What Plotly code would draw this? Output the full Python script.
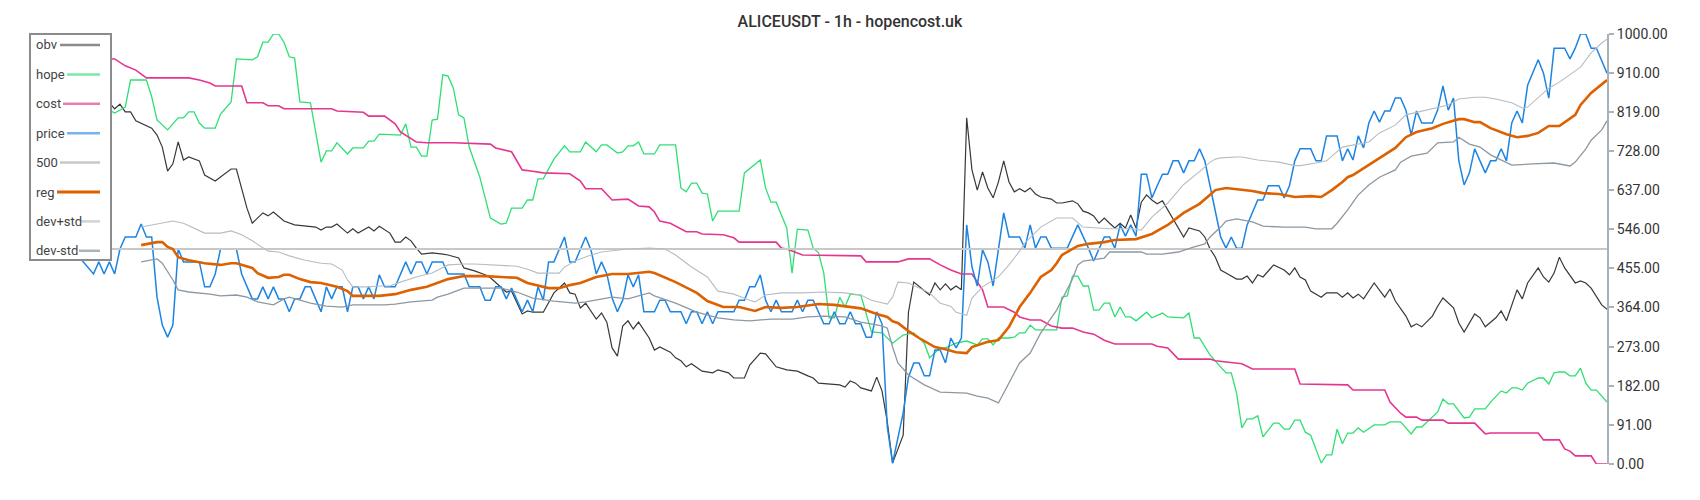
import plotly.graph_objects as go

TITLE = "ALICEUSDT - 1h - hopencost.uk"
LAST_BAR = 298  # candles indexed 0..298

# ── series (bar index, value on the 0..1000 scale) ─────────────────────────────
obv_idx = [0, 5, 10, 15, 16, 17, 18, 19, 20, 23, 24, 25, 26, 27, 28, 29, 30, 32, 33, 35, 38, 39, 41, 42, 44, 45, 46, 48,
           50, 54, 55, 56, 57, 58, 60, 61, 62, 64, 65, 66, 68, 69, 70, 71, 72, 73, 74, 76, 78, 79, 81, 82, 84, 86, 87,
           89, 90, 91, 93, 94, 95, 97, 98, 99, 101, 102, 103, 104, 105, 107, 108, 109, 110, 111, 112, 113, 114, 115,
           117, 118, 119, 121, 122, 123, 124, 125, 127, 129, 130, 132, 133, 135, 136, 138, 139, 140, 141, 143, 145,
           147, 148, 149, 151, 152, 153, 154, 155, 156, 157, 159, 160, 161, 162, 163, 165, 166, 167, 170, 171, 172,
           173, 174, 175, 176, 177, 178, 179, 180, 181, 182, 183, 184, 185, 186, 187, 188, 189, 190, 191, 193, 194,
           195, 197, 198, 199, 200, 201, 202, 203, 204, 205, 206, 207, 208, 209, 210, 211, 212, 213, 214, 215, 216,
           217, 218, 219, 221, 222, 223, 224, 225, 226, 228, 229, 230, 231, 232, 233, 235, 237, 238, 239, 240, 241,
           242, 244, 245, 247, 248, 249, 250, 251, 252, 254, 256, 257, 258, 260, 261, 262, 263, 265, 266, 267, 269,
           270, 271, 273, 274, 275, 277, 278, 279, 281, 282, 283, 285, 286, 287, 288, 289, 290, 292, 293, 294, 295,
           297, 298]
obv_val = [905, 890, 860, 840, 826, 837, 819, 819, 798, 781, 765, 737, 681, 698, 749, 707, 714, 705, 672, 658, 686, 686,
           595, 560, 584, 577, 586, 565, 556, 551, 544, 551, 551, 558, 537, 547, 537, 551, 542, 553, 537, 516, 516,
           528, 519, 502, 488, 491, 488, 486, 479, 456, 449, 440, 433, 412, 400, 402, 349, 356, 353, 353, 377, 398,
           421, 398, 395, 363, 374, 337, 351, 330, 270, 251, 321, 333, 314, 330, 293, 265, 272, 260, 247, 240, 226,
           233, 216, 212, 219, 212, 200, 200, 230, 258, 256, 242, 226, 219, 216, 205, 200, 188, 186, 186, 184, 179,
           193, 188, 177, 170, 202, 170, 98, 2, 67, 353, 423, 393, 421, 405, 419, 405, 414, 405, 805, 684, 637, 679,
           642, 619, 656, 705, 656, 633, 640, 633, 642, 628, 621, 616, 607, 607, 612, 605, 588, 584, 577, 560, 572,
           560, 549, 560, 549, 579, 549, 609, 626, 614, 605, 612, 591, 572, 551, 528, 549, 542, 528, 500, 481, 451,
           444, 430, 430, 437, 421, 440, 435, 463, 451, 440, 456, 435, 428, 402, 388, 398, 398, 388, 398, 386, 395,
           384, 421, 388, 407, 379, 344, 319, 326, 319, 344, 367, 386, 363, 328, 307, 349, 340, 319, 340, 356, 333,
           405, 384, 421, 456, 435, 423, 444, 481, 456, 421, 426, 421, 409, 370, 360]

hope_idx = [0, 5, 10, 15, 16, 18, 19, 22, 23, 24, 26, 28, 29, 30, 31, 32, 33, 35, 36, 38, 39, 42, 43, 44, 45, 46, 47,
            48, 49, 50, 51, 53, 55, 56, 57, 58, 60, 61, 63, 64, 65, 66, 70, 71, 72, 73, 74, 75, 76, 77, 78, 79, 80,
            81, 82, 83, 85, 87, 89, 90, 91, 93, 94, 95, 96, 97, 99, 101, 102, 104, 105, 107, 108, 109, 111, 112, 113,
            114, 115, 116, 118, 119, 122, 123, 124, 125, 126, 127, 128, 129, 130, 134, 135, 138, 139, 140, 141, 143,
            144, 145, 147, 148, 149, 150, 151, 152, 153, 154, 155, 157, 159, 161, 163, 165, 167, 169, 170, 172, 173,
            175, 177, 179, 180, 181, 182, 183, 185, 186, 187, 188, 189, 190, 194, 195, 196, 197, 198, 199, 200, 201,
            202, 203, 204, 205, 206, 207, 208, 209, 211, 212, 214, 215, 218, 219, 220, 221, 223, 225, 226, 227, 228,
            229, 230, 231, 232, 233, 235, 236, 237, 238, 239, 240, 241, 242, 244, 245, 246, 247, 248, 249, 250, 251,
            252, 254, 256, 257, 259, 261, 262, 263, 264, 266, 267, 268, 269, 271, 272, 273, 275, 276, 278, 279, 280,
            281, 282, 283, 285, 286, 287, 288, 289, 290, 291, 292, 293, 294, 295, 296, 298]
hope_val = [835, 848, 838, 823, 816, 830, 893, 893, 854, 800, 777, 805, 805, 819, 819, 793, 781, 781, 814, 842, 942,
            940, 947, 981, 981, 1000, 1000, 981, 947, 944, 842, 840, 702, 728, 728, 747, 721, 735, 735, 751, 751, 767,
            765, 791, 737, 737, 716, 716, 800, 802, 905, 902, 874, 812, 805, 737, 667, 572, 558, 560, 595, 595, 614,
            614, 663, 663, 709, 740, 726, 726, 749, 726, 742, 742, 723, 726, 740, 740, 749, 721, 721, 742, 742, 642,
            633, 653, 653, 630, 628, 565, 588, 588, 677, 707, 642, 609, 609, 549, 444, 546, 544, 502, 491, 444, 340,
            340, 388, 365, 395, 393, 307, 305, 281, 300, 305, 281, 247, 270, 270, 281, 286, 277, 291, 291, 277, 293,
            293, 295, 305, 305, 323, 312, 312, 388, 391, 437, 437, 414, 414, 358, 358, 374, 374, 342, 365, 342, 342,
            333, 353, 340, 351, 342, 340, 351, 293, 293, 253, 226, 212, 212, 165, 84, 105, 105, 112, 63, 95, 95, 81,
            81, 102, 102, 74, 67, 2, 21, 21, 81, 47, 72, 72, 84, 74, 91, 91, 98, 98, 70, 86, 86, 98, 121, 151, 140,
            140, 107, 109, 128, 128, 144, 170, 165, 177, 177, 172, 188, 200, 200, 186, 212, 214, 214, 205, 205, 223,
            188, 172, 172, 144]

cost_idx = [0, 2, 4, 8, 12, 15, 16, 17, 18, 20, 22, 30, 32, 34, 35, 40, 41, 44, 45, 47, 48, 57, 58, 63, 64, 67, 68,
            69, 70, 73, 75, 80, 87, 88, 91, 93, 95, 97, 102, 104, 105, 108, 110, 113, 115, 117, 118, 119, 121, 124,
            126, 127, 131, 133, 134, 141, 142, 143, 146, 157, 158, 164, 166, 170, 172, 174, 176, 178, 180, 181, 184,
            186, 187, 189, 191, 193, 195, 197, 199, 201, 203, 205, 212, 213, 215, 217, 223, 224, 229, 231, 239, 240,
            249, 250, 256, 257, 259, 260, 262, 263, 267, 268, 273, 275, 276, 285, 286, 289, 290, 291, 292, 295, 296,
            298]
cost_val = [1000, 1000, 985, 965, 950, 942, 942, 935, 926, 916, 898, 898, 893, 886, 879, 879, 840, 840, 833, 833, 826,
            826, 821, 818, 809, 809, 800, 791, 772, 749, 747, 747, 744, 735, 726, 684, 681, 677, 675, 658, 640, 640,
            614, 616, 600, 598, 586, 565, 560, 540, 540, 535, 533, 526, 516, 516, 502, 500, 486, 484, 470, 470, 477,
            477, 463, 451, 442, 442, 405, 365, 365, 353, 342, 335, 335, 321, 316, 316, 307, 302, 288, 279, 279, 274,
            270, 244, 244, 240, 233, 221, 221, 186, 184, 172, 172, 144, 118, 109, 109, 102, 102, 95, 95, 70, 72, 72,
            56, 56, 35, 30, 19, 19, 0, 0]

price_idx = [0, 2, 4, 6, 8, 10, 12, 13, 14, 15, 16, 17, 18, 20, 21, 22, 23, 24, 25, 26, 27, 28, 29, 32, 33, 34, 35,
             36, 39, 40, 42, 43, 44, 45, 46, 47, 48, 49, 50, 51, 52, 53, 55, 56, 57, 58, 59, 60, 61, 62, 63, 64, 65,
             66, 67, 69, 70, 71, 72, 73, 74, 75, 76, 78, 79, 82, 83, 85, 86, 87, 88, 89, 90, 91, 93, 94, 95, 96, 97,
             98, 99, 101, 102, 103, 105, 106, 107, 108, 109, 110, 111, 112, 113, 114, 115, 116, 118, 119, 120, 121,
             123, 124, 125, 126, 127, 128, 129, 130, 133, 134, 135, 136, 137, 138, 139, 140, 141, 142, 144, 145, 146,
             147, 148, 149, 150, 151, 152, 153, 154, 155, 156, 157, 158, 159, 160, 161, 162, 163, 165, 166, 167, 168,
             169, 170, 171, 172, 173, 174, 175, 176, 177, 178, 179, 180, 181, 182, 183, 184, 185, 187, 188, 189, 190,
             191, 192, 193, 196, 198, 200, 201, 203, 204, 205, 206, 207, 208, 209, 210, 211, 212, 213, 214, 215, 216,
             217, 218, 219, 220, 221, 222, 225, 226, 227, 228, 229, 230, 232, 233, 234, 236, 237, 238, 239, 240, 242,
             243, 244, 245, 247, 248, 249, 250, 251, 252, 253, 254, 255, 256, 257, 258, 259, 260, 261, 262, 263, 265,
             266, 267, 268, 269, 270, 271, 272, 273, 274, 275, 276, 277, 278, 279, 280, 281, 282, 283, 285, 286, 287,
             288, 290, 291, 292, 293, 294, 295, 296, 298]
price_val = [500, 474, 500, 528, 500, 470, 442, 470, 442, 470, 442, 500, 528, 528, 558, 528, 528, 388, 323, 295, 323,
             500, 470, 470, 412, 412, 442, 500, 500, 442, 384, 384, 412, 384, 412, 384, 384, 354, 384, 384, 412, 412,
             354, 412, 384, 412, 412, 354, 412, 412, 384, 412, 384, 440, 412, 412, 442, 470, 442, 470, 470, 442, 470,
             470, 442, 442, 412, 412, 381, 381, 412, 412, 384, 409, 354, 381, 354, 412, 381, 470, 470, 528, 470, 470,
             528, 498, 442, 470, 442, 386, 354, 381, 440, 412, 440, 354, 354, 381, 381, 354, 354, 326, 354, 354, 326,
             354, 326, 354, 354, 381, 381, 412, 412, 440, 381, 354, 381, 354, 354, 381, 354, 381, 381, 354, 326, 326,
             354, 326, 326, 354, 326, 326, 295, 295, 354, 326, 86, 2, 119, 202, 235, 235, 205, 205, 265, 265, 235, 293,
             270, 293, 556, 458, 414, 498, 470, 414, 502, 584, 528, 528, 502, 556, 502, 528, 528, 502, 502, 556, 502,
             472, 528, 528, 502, 556, 530, 556, 530, 674, 674, 619, 647, 674, 674, 705, 705, 677, 705, 705, 733, 705,
             528, 502, 528, 502, 502, 556, 614, 614, 647, 647, 619, 647, 705, 733, 733, 705, 705, 763, 763, 705, 733,
             707, 763, 735, 793, 821, 795, 821, 821, 851, 851, 823, 765, 821, 793, 793, 823, 879, 823, 851, 705, 649,
             677, 733, 705, 677, 705, 705, 733, 705, 793, 821, 793, 881, 940, 909, 851, 967, 967, 942, 967, 1000, 1000,
             967, 967, 909]

level_500 = 500

reg_idx = [21, 23, 24, 25, 26, 27, 28, 30, 32, 33, 36, 38, 39, 42, 43, 45, 47, 48, 49, 51, 53, 55, 58, 60, 61, 66,
           69, 72, 75, 77, 79, 82, 86, 89, 92, 94, 98, 100, 102, 104, 107, 110, 113, 117, 118, 122, 126, 128, 131,
           134, 137, 139, 142, 145, 149, 152, 155, 157, 160, 162, 163, 164, 166, 168, 171, 173, 175, 177, 178, 181,
           183, 185, 187, 189, 191, 193, 194, 195, 198, 200, 203, 205, 209, 212, 214, 215, 218, 221, 223, 224, 226,
           231, 233, 236, 239, 242, 244, 246, 248, 249, 250, 253, 255, 258, 260, 262, 265, 267, 270, 271, 273, 274,
           276, 279, 281, 283, 285, 287, 289, 291, 292, 293, 295, 298]
reg_val = [509, 514, 516, 516, 505, 500, 481, 474, 470, 467, 463, 467, 467, 456, 444, 433, 435, 440, 440, 430, 423,
           421, 412, 402, 391, 391, 395, 405, 412, 421, 430, 437, 437, 435, 433, 421, 409, 409, 416, 421, 435, 442,
           442, 447, 444, 423, 398, 379, 365, 365, 356, 365, 363, 365, 372, 370, 365, 362, 349, 342, 332, 328, 309,
           293, 272, 267, 260, 258, 272, 284, 288, 319, 365, 398, 435, 451, 467, 486, 507, 512, 516, 521, 523, 535,
           549, 556, 584, 605, 626, 637, 642, 635, 630, 628, 621, 623, 621, 637, 656, 667, 672, 695, 712, 735, 760,
           772, 781, 791, 802, 802, 795, 795, 781, 767, 760, 763, 770, 786, 786, 802, 812, 835, 863, 893]

dev_hi_idx = [21, 24, 27, 29, 31, 33, 36, 38, 40, 42, 45, 47, 49, 52, 55, 57, 59, 60, 61, 64, 66, 68, 70, 73, 76,
              78, 79, 82, 84, 92, 94, 96, 100, 101, 103, 106, 108, 113, 117, 120, 122, 125, 128, 130, 133, 136, 137,
              139, 142, 146, 150, 154, 157, 159, 162, 163, 164, 166, 170, 172, 174, 175, 177, 178, 180, 183, 185, 187,
              188, 191, 194, 197, 199, 204, 208, 210, 212, 215, 218, 221, 223, 224, 225, 228, 229, 232, 236, 239, 240,
              243, 245, 248, 251, 253, 255, 258, 260, 264, 266, 268, 270, 272, 273, 275, 277, 280, 282, 283, 285, 287,
              289, 291, 293, 295, 297, 298]
dev_hi_val = [551, 558, 565, 560, 549, 537, 537, 542, 533, 519, 495, 493, 484, 474, 467, 465, 451, 428, 412, 412, 414,
              414, 423, 435, 444, 456, 463, 465, 465, 460, 453, 444, 444, 458, 472, 486, 493, 500, 502, 500, 486, 458,
              435, 402, 395, 381, 377, 393, 398, 398, 400, 398, 393, 381, 372, 388, 423, 421, 398, 374, 367, 353, 346,
              386, 412, 435, 463, 495, 514, 551, 572, 572, 551, 547, 547, 544, 574, 607, 650, 680, 702, 709, 712, 714,
              714, 707, 702, 694, 694, 700, 705, 737, 744, 749, 770, 788, 812, 823, 828, 835, 849, 851, 853, 853, 849,
              840, 828, 830, 851, 874, 888, 905, 923, 956, 979, 988]

dev_lo_idx = [21, 24, 25, 27, 28, 30, 34, 36, 39, 41, 43, 45, 46, 48, 49, 51, 53, 56, 59, 61, 67, 69, 72, 76, 77,
              79, 82, 86, 89, 92, 95, 99, 103, 105, 107, 110, 113, 117, 118, 122, 126, 130, 133, 136, 140, 144, 147,
              150, 154, 157, 161, 162, 163, 164, 166, 169, 172, 175, 177, 179, 181, 183, 184, 187, 189, 191, 194, 197,
              198, 199, 203, 204, 210, 211, 214, 217, 220, 222, 223, 225, 226, 228, 231, 233, 237, 241, 243, 246, 247,
              249, 251, 253, 255, 258, 259, 261, 264, 266, 269, 270, 272, 274, 276, 279, 280, 284, 288, 291, 292, 294,
              295, 297, 298]
dev_lo_val = [470, 477, 467, 428, 405, 400, 395, 391, 393, 388, 377, 372, 370, 384, 388, 381, 374, 367, 365, 370, 370,
              372, 377, 381, 388, 395, 409, 409, 409, 400, 386, 379, 374, 377, 381, 388, 384, 398, 391, 374, 353, 340,
              335, 333, 337, 337, 342, 344, 342, 330, 321, 316, 272, 235, 207, 184, 167, 165, 165, 158, 153, 142, 165,
              235, 258, 305, 358, 430, 463, 472, 479, 493, 493, 488, 488, 493, 505, 512, 528, 551, 565, 570, 563, 553,
              551, 551, 547, 547, 560, 591, 626, 649, 667, 684, 702, 716, 723, 747, 749, 760, 744, 737, 719, 702, 695,
              698, 700, 693, 702, 733, 753, 777, 798]

y_ticks = [0, 91, 182, 273, 364, 455, 546, 637, 728, 819, 910, 1000]

# ── styling ───────────────────────────────────────────────────────────────────
FONT = "Roboto, 'Open Sans', sans-serif"
TEXT = "#333333"

# name, x, y, line colour, line width, legend-sample colour
SERIES = [
    ("obv", obv_idx, obv_val, "#383838", 1.2, "#8a8a8a"),
    ("hope", hope_idx, hope_val, "#2fdf74", 1.3, "#7aeaa8"),
    ("cost", cost_idx, cost_val, "#e6358f", 1.6, "#ee7ab5"),
    ("price", price_idx, price_val, "#1d84e2", 1.5, "#77b3ec"),
    ("500", [0, LAST_BAR], [level_500, level_500], "#c8c8c8", 2.2, "#c8c8c8"),
    ("reg", reg_idx, reg_val, "#dd6100", 2.6, "#dd6100"),
    ("dev+std", dev_hi_idx, dev_hi_val, "#b6bdc3", 1.1, "#ced4d9"),
    ("dev-std", dev_lo_idx, dev_lo_val, "#8d98a1", 1.3, "#aab3ba"),
]

# The page body adds an 8px offset, so the figure is laid out 8px up/left
W, H = 1700, 500
OFF = 8
# plot area in window pixels (used to place the hand-built legend)
PL, PR, PT, PB = 30, 1607, 34, 464


def px_x(x):
    return (x - PL) / (PR - PL)


def px_y(y):
    return (PB - y) / (PB - PT)


fig = go.Figure()
for name, xs, ys, color, width, _ in SERIES:
    fig.add_trace(go.Scatter(
        x=xs, y=ys, mode="lines", name=name,
        line=dict(color=color, width=width),
        showlegend=False, hoverinfo="skip",
    ))

# Legend: text on the left, line sample on the right, white box over the lines
shapes = [dict(
    type="rect", xref="paper", yref="paper", layer="above",
    x0=px_x(30), x1=px_x(111), y0=px_y(260), y1=px_y(34),
    fillcolor="white", line=dict(color="#8c8c8c", width=2),
)]
annotations = []
sample_start = [60, 67, 63, 67, 60, 57, 81, 79]
for k, (name, _, _, _, width, lcolor) in enumerate(SERIES):
    yy = 45 + 29.4 * k
    shapes.append(dict(
        type="line", xref="paper", yref="paper", layer="above",
        x0=px_x(sample_start[k]), x1=px_x(100), y0=px_y(yy), y1=px_y(yy),
        line=dict(color=lcolor, width=3 if name == "reg" else 2.5),
    ))
    annotations.append(dict(
        text=name, xref="paper", yref="paper", showarrow=False,
        x=px_x(34), y=px_y(yy), xanchor="left", yanchor="middle",
        font=dict(family=FONT, size=13, color="#444444"),
    ))

fig.update_layout(
    width=W, height=H,
    margin=dict(l=PL - OFF, r=W - PR + OFF, t=PT - OFF, b=H - PB + OFF),
    plot_bgcolor="white", paper_bgcolor="white",
    font=dict(family=FONT, size=14, color=TEXT),
    title=dict(
        text=TITLE, x=(W / 2 - OFF) / W, xref="container", xanchor="center",
        y=1 - (21 - OFF) / H, yref="container", yanchor="middle",
        font=dict(family=FONT, size=16, color=TEXT, weight=500),
    ),
    xaxis=dict(visible=False, range=[0, LAST_BAR]),
    yaxis=dict(
        side="right", range=[0, 1000],
        tickvals=y_ticks, ticktext=[f"{v:.2f}" for v in y_ticks],
        showgrid=False, zeroline=False,
        showline=True, linecolor="#aab2b9", linewidth=2,
        ticks="outside", ticklen=5, tickwidth=2, tickcolor="#aab2b9",
        tickfont=dict(family=FONT, size=14, color=TEXT),
    ),
    shapes=shapes,
    annotations=annotations,
    showlegend=False,
)

fig.write_html("out.html")
